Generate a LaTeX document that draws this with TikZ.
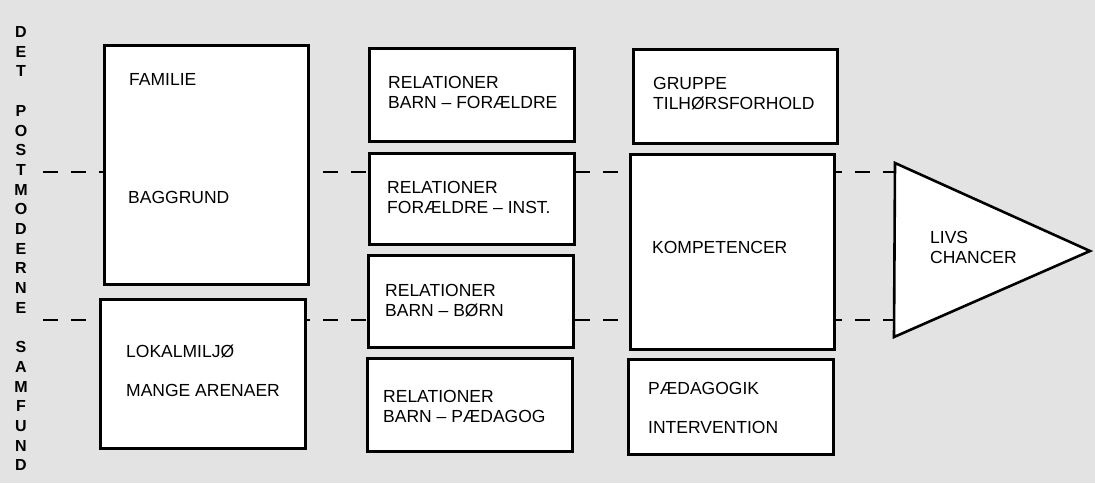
\documentclass[tikz,border=0pt]{standalone}
\usepackage{fontspec}
\setmainfont{Liberation Sans}

\begin{document}
\begin{tikzpicture}[x=1pt, y=-1pt,
  box/.style={draw=black, fill=white, line width=2.6pt, inner sep=0pt, anchor=north west},
  txt/.style={anchor=north west, inner sep=0pt, align=left, font=\fontsize{17.5}{20}\selectfont},
  side/.style={inner sep=0pt, font=\fontsize{16}{16}\selectfont\bfseries},
  dashline/.style={line width=2.2pt, dash pattern=on 15pt off 13pt}]

  % Paper with grey screen
  \fill[black!11] (0,0) rectangle (1095,483);
  \useasboundingbox (0,0) rectangle (1095,483);

  % Vertical title, one letter a row
  \foreach \l/\k in {D/0,E/1,T/2,P/4,O/5,S/6,T/7,M/8,O/9,D/10,E/11,R/12,N/13,E/14,
                     S/16,A/17,M/18,F/19,U/20,N/21,D/22}
    \node[side] (v\k) at (21,32+19.7*\k) {\l};

  % Triangle corners and start of the dashed lines
  \coordinate (t1) at (895,163);
  \coordinate (t2) at (1090,251);
  \coordinate (t3) at (894,337);
  \coordinate (d1) at (43,172);
  \coordinate (d2) at (43,320);

  % Dashed lines run behind the boxes
  \draw[dashline] (d1) -- (d1 -| t1);
  \draw[dashline] (d2) -- (d2 -| t3);

  % First column
  \node[box, minimum width=204pt, minimum height=239pt] (fam) at (103,44) {};
  \node[box, minimum width=205pt, minimum height=149pt] (lok) at (99,298) {};

  % Second column
  \node[box, minimum width=205pt, minimum height=93pt] (rel1) at (368,47) {};
  \node[box, minimum width=205pt, minimum height=91pt] (rel2) at (368,152) {};
  \node[box, minimum width=205pt, minimum height=92pt] (rel3) at (367,254) {};
  \node[box, minimum width=205pt, minimum height=93pt] (rel4) at (366,357) {};

  % Third column
  \node[box, minimum width=204pt, minimum height=94pt] (grp) at (632,48) {};
  \node[box, minimum width=204pt, minimum height=195pt] (komp) at (629,153) {};
  \node[box, minimum width=205pt, minimum height=95pt] (paed) at (627,358) {};

  % Life chances
  \draw[line width=2.6pt, fill=white, line join=miter] (t1) -- (t2) -- (t3) -- cycle;

  % Texts
  \node[txt] (famt) at (129,73) {FAMILIE};
  \node[txt] (bagt) at (128,191) {BAGGRUND};
  \node[txt] (lokt) at (126,345) {LOKALMILJØ};
  \node[txt] (mant) at (126,384) {MANGE ARENAER};

  \node[txt] (rel1t) at (388,76) {RELATIONER\\BARN -- FORÆLDRE};
  \node[txt] (rel2t) at (387,181) {RELATIONER\\FORÆLDRE -- INST.};
  \node[txt] (rel3t) at (385,284) {RELATIONER\\BARN -- BØRN};
  \node[txt] (rel4t) at (383,390) {RELATIONER\\BARN -- PÆDAGOG};

  \node[txt] (grpt) at (653,77) {GRUPPE\\TILHØRSFORHOLD};
  \node[txt] (kompt) at (652,241) {KOMPETENCER};
  \node[txt] (paedt) at (648,382) {PÆDAGOGIK};
  \node[txt] (intt) at (648,421) {INTERVENTION};

  \node[txt] (livs) at (930,231) {LIVS\\CHANCER};
\end{tikzpicture}
\end{document}
